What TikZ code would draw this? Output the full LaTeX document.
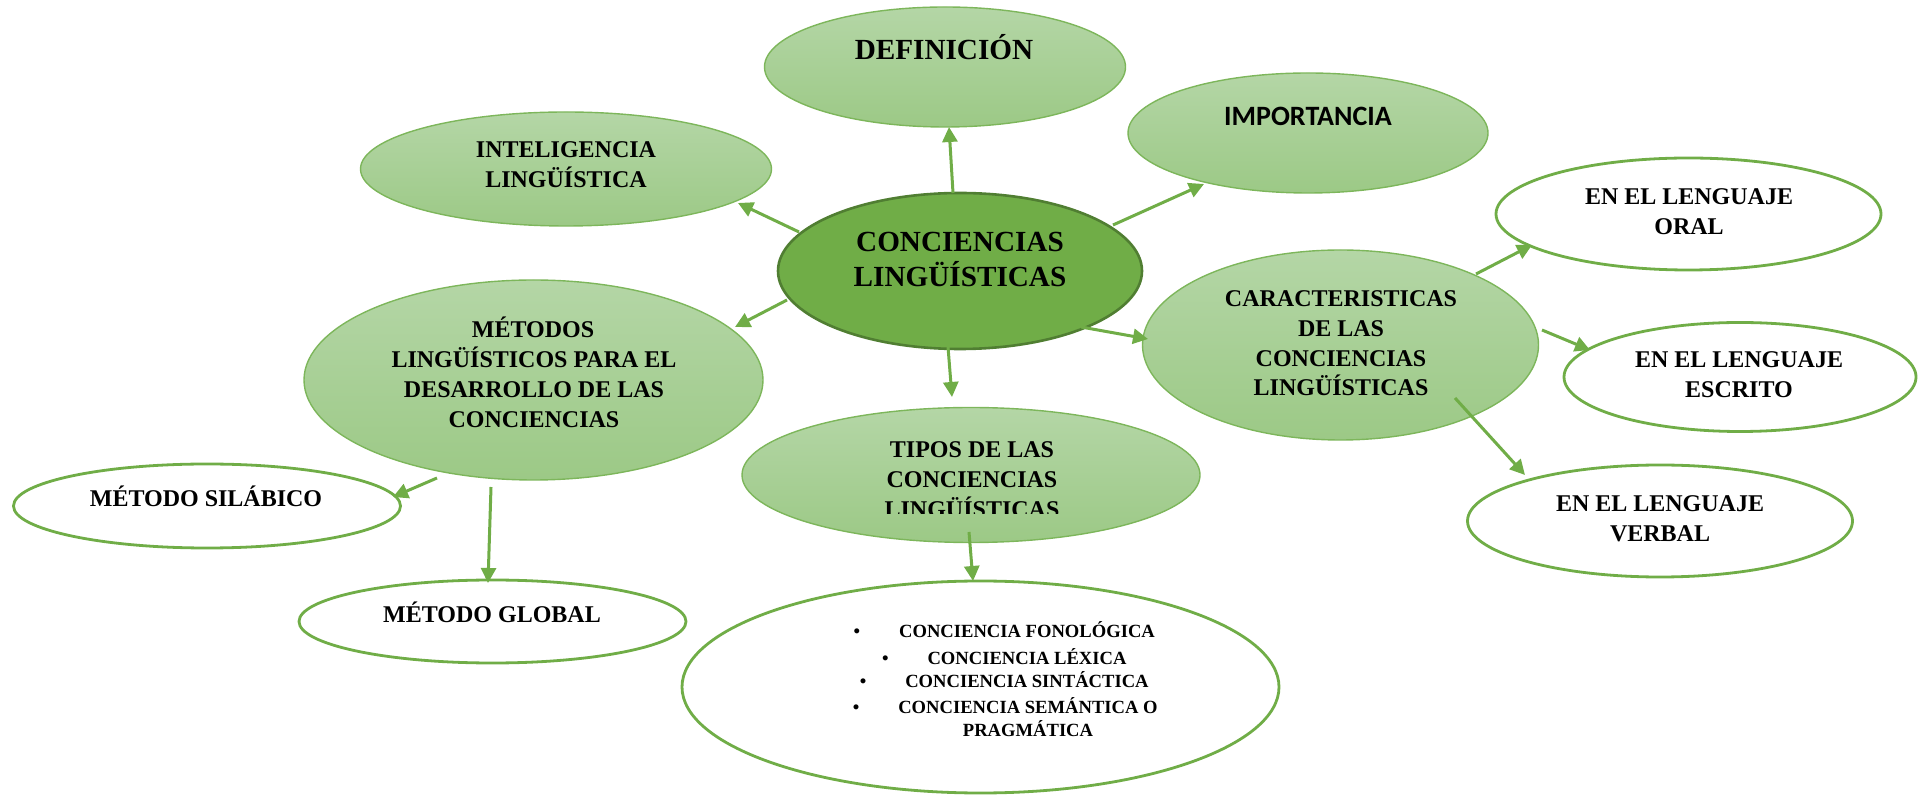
\documentclass[tikz,border=0pt]{standalone}
\usepackage{fontspec}
\setmainfont{Liberation Serif}
\newfontfamily\carlitofont{Carlito}
\usetikzlibrary{shapes.geometric,arrows.meta,calc}
\definecolor{gmain}{HTML}{70AD47}
\definecolor{gdark}{HTML}{507E32}
\definecolor{liteT}{HTML}{B4D6A6}
\definecolor{liteBo}{HTML}{9CC986}
\definecolor{liteB}{HTML}{7DB65B}
\begin{document}
\begin{tikzpicture}[x=0.5pt,y=-0.5pt,
  sz/.style 2 args={minimum width=#1*0.5pt, minimum height=#2*0.5pt},
  base/.style={ellipse, inner sep=0pt, outer sep=0pt},
  lite/.style={base, draw=liteB, line width=0.7pt, top color=liteT, bottom color=liteBo},
  hub/.style={base, draw=gdark, line width=1.3pt, fill=gmain},
  plain/.style={base, draw=gmain, line width=1.4pt, fill=white},
  txt/.style={inner sep=0pt, outer sep=0pt, anchor=base, font=\bfseries\fontsize{12pt}{14pt}\selectfont},
  big/.style={txt, font=\bfseries\fontsize{14.6pt}{17pt}\selectfont},
  small/.style={txt, font=\bfseries\fontsize{9.3pt}{11pt}\selectfont},
  arr/.style={draw=gmain, line width=1.5pt, -{Triangle[length=7.5pt,width=7.5pt]}}
]
\useasboundingbox (0,0) rectangle (1926,795);

% ellipses
\node[lite, sz={361}{120}] (def) at (945,67) {};
\node[lite, sz={360}{120}] (imp) at (1308,133) {};
\node[lite, sz={411}{114}] (intel) at (566,169) {};
\node[lite, sz={459}{200}] (met) at (533.5,380) {};
\node[hub, sz={364}{156}] (c) at (960,271) {};
\node[lite, sz={396}{190}] (car) at (1340.5,345) {};
\node[lite, sz={458}{135}] (tip) at (971,475) {};
\node[plain, sz={385}{112}] (oral) at (1688.5,214) {};
\node[plain, sz={352}{109}] (esc) at (1740,377) {};
\node[plain, sz={385}{112}] (verb) at (1660,521) {};
\node[plain, sz={387}{84}] (sil) at (207,506) {};
\node[plain, sz={387}{83}] (glob) at (492.5,621.5) {};
\node[plain, sz={597}{212}] (list) at (980.5,687) {};

% texts
\node[big] (tdef) at (944,60) {DEFINICIÓN};
\node[txt, font=\carlitofont\bfseries\fontsize{14pt}{17pt}\selectfont] (timp) at (1308,126) {IMPORTANCIA};
\node[txt] (tintel1) at (566,158) {INTELIGENCIA};
\node[txt] (tintel2) at (566,188) {LINGÜÍSTICA};
\node[txt] (tmet1) at (533,338) {MÉTODOS};
\node[txt] (tmet2) at (534,368) {LINGÜÍSTICOS PARA EL};
\node[txt] (tmet3) at (534,398) {DESARROLLO DE LAS};
\node[txt] (tmet4) at (534,428) {CONCIENCIAS};
\node[big] (tc1) at (960,252) {CONCIENCIAS};
\node[big] (tc2) at (960,287) {LINGÜÍSTICAS};
\node[txt] (tcar1) at (1341,307) {CARACTERISTICAS};
\node[txt] (tcar2) at (1341,337) {DE LAS};
\node[txt] (tcar3) at (1341,367) {CONCIENCIAS};
\node[txt] (tcar4) at (1341,396) {LINGÜÍSTICAS};
\node[txt] (ttip1) at (972,458) {TIPOS DE LAS};
\node[txt] (ttip2) at (972,488) {CONCIENCIAS};
\begin{scope}
  \clip ($(tip)+(-200,0)$) rectangle ($(tip)+(200,38.5)$);
  \node[txt] (ttip3) at (972,517.5) {LINGÜÍSTICAS};
\end{scope}
\node[txt] (toral1) at (1689,205) {EN EL LENGUAJE};
\node[txt] (toral2) at (1689,235) {ORAL};
\node[txt] (tesc1) at (1739,368) {EN EL LENGUAJE};
\node[txt] (tesc2) at (1739,398) {ESCRITO};
\node[txt] (tverb1) at (1660,512) {EN EL LENGUAJE};
\node[txt] (tverb2) at (1660,542) {VERBAL};
\node[txt] (tsil) at (206,507) {MÉTODO SILÁBICO};
\node[txt] (tglob) at (492,623) {MÉTODO GLOBAL};
\node[small] (tl1) at (1027,638) {\llap{\textbullet\hspace{19.5pt}}CONCIENCIA FONOLÓGICA};
\node[small] (tl2) at (1027,664) {\llap{\textbullet\hspace{19.5pt}}CONCIENCIA LÉXICA};
\node[small] (tl3) at (1027,688) {\llap{\textbullet\hspace{19.5pt}}CONCIENCIA SINTÁCTICA};
\node[small] (tl4) at (1028,713) {\llap{\textbullet\hspace{19.5pt}}CONCIENCIA SEMÁNTICA O};
\node[small] (tl5) at (1028,736) {PRAGMÁTICA};

% connectors
\draw[arr] ($(c)+(-7,-78)$) -- ($(def)+(4,60)$);
\draw[arr] ($(c)+(153,-46)$) -- ($(imp)+(-104,51)$);
\draw[arr] ($(c)+(-161,-39)$) -- ($(intel)+(172,34)$);
\draw[arr] ($(c)+(-173,29)$) -- ($(met)+(201.5,-53)$);
\draw[arr] ($(c)+(-12,76)$) -- ($(tip)+(-19,-78)$);
\draw[arr] ($(c)+(121,56)$) -- ($(car)+(-192.5,-6)$);
\draw[arr] ($(car)+(135.5,-71)$) -- ($(oral)+(-156.5,31)$);
\draw[arr] ($(car)+(201.5,-15)$) -- ($(esc)+(-150,-27)$);
\draw[arr] ($(car)+(114.5,53)$) -- ($(verb)+(-135,-46)$);
\draw[arr] ($(met)+(-96.5,98)$) -- ($(sil)+(186,-9)$);
\draw[arr] ($(met)+(-42.5,107)$) -- ($(glob)+(-4.5,-38.5)$);
\draw[arr] ($(tip)+(-2,57)$) -- ($(list)+(-7.5,-106)$);
\end{tikzpicture}
\end{document}
